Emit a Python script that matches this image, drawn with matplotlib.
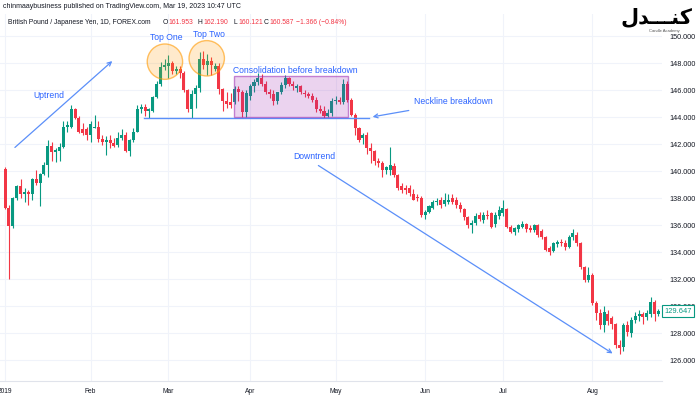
import numpy as np
import pandas as pd
import matplotlib
matplotlib.use('Agg')
import matplotlib.pyplot as plt
from matplotlib.patches import Ellipse, Rectangle
from matplotlib.ticker import FormatStrFormatter
from matplotlib.transforms import blended_transform_factory

# GBPJPY daily candles, Jan-Aug 2019, one line per month
opens = [
    140.2, 137.3, 135.95, 138.0, 138.9, 138.3, 138.45, 138.3, 139.4, 139.1, 139.8, 140.5, 141.9, 141.4, 141.5, 141.8, 143.3, 143.3, 144.6, 143.95, 143.1, 143.1,
    142.7, 143.2, 143.3, 142.4, 142.2, 142.3, 142.1, 141.95, 142.5, 142.7, 141.5, 142.3, 142.9, 144.6, 144.75, 144.5, 144.5, 145.5, 146.5, 147.7,
    147.8, 148.0, 147.4, 147.6, 147.3, 146.0, 144.6, 145.7, 146.2, 148.3, 147.9, 148.2, 147.6, 147.8, 146.1, 145.2, 145.1, 145.1, 146.1, 145.9, 144.4,
    145.6, 146.3, 146.6, 146.9, 146.5, 145.9, 145.7, 145.2, 145.9, 146.4, 146.9, 146.5, 146.2, 146.3, 145.8, 145.7, 145.6, 145.3, 144.6, 144.5, 144.1, 144.3,
    145.2, 145.3, 145.1, 146.5, 145.3, 144.2, 143.2, 142.5, 142.7, 141.7, 141.5, 140.8, 140.6, 140.1, 140.1, 140.4, 139.7, 138.9, 138.8, 138.8, 138.3, 138.1, 138.0,
    136.8, 137.0, 137.3, 137.7, 137.9, 137.6, 137.7, 138.0, 137.9, 137.5, 137.2, 136.6, 136.0, 136.2, 136.8, 136.4, 136.8, 136.9, 136.1, 136.7,
    136.9, 137.2, 135.9, 135.5, 135.7, 135.9, 136.1, 135.8, 135.65, 136.0, 135.6, 135.1, 134.3, 134.1, 134.6, 134.8, 134.7, 134.4, 135.1, 135.3, 134.7, 132.9, 131.95,
    132.3, 130.25, 129.5, 128.6, 129.4, 129.1, 128.7, 127.1, 127.0, 128.6, 128.0, 129.0, 129.3, 129.4, 129.2, 129.4, 130.35, 129.4,
]
highs = [
    140.3, 137.5, 138.1, 139.0, 139.4, 138.8, 138.6, 139.5, 140.1, 139.9, 140.7, 142.3, 142.2, 141.7, 142.1, 143.7, 143.7, 144.9, 144.7, 144.1, 143.6, 143.3,
    143.7, 144.2, 143.7, 142.7, 142.6, 142.7, 142.5, 142.9, 143.1, 142.9, 142.4, 143.2, 144.9, 145.0, 145.0, 144.7, 145.6, 146.7, 148.1, 148.3,
    148.6, 148.2, 147.8, 147.8, 147.4, 146.1, 146.0, 146.4, 148.8, 148.9, 148.7, 148.5, 148.0, 148.0, 146.2, 145.9, 145.8, 146.3, 146.3, 146.0, 146.0,
    146.5, 146.8, 147.3, 147.2, 146.7, 146.1, 146.0, 145.9, 146.6, 147.1, 147.0, 146.7, 146.5, 146.4, 146.0, 145.9, 145.8, 145.5, 144.9, 144.8, 144.6, 145.4,
    145.6, 145.5, 146.8, 146.7, 145.4, 144.3, 143.3, 142.8, 142.9, 142.1, 141.6, 141.0, 140.8, 140.4, 141.8, 140.6, 139.8, 139.1, 139.0, 139.0, 138.7, 138.3, 138.2,
    137.1, 137.5, 137.9, 138.0, 138.1, 138.4, 138.3, 138.3, 138.1, 137.7, 137.3, 136.7, 136.4, 136.9, 137.0, 137.0, 137.1, 137.0, 137.0, 137.4,
    137.9, 137.3, 136.0, 135.9, 136.1, 136.3, 136.2, 136.0, 136.1, 136.1, 135.7, 135.2, 134.5, 134.8, 134.9, 135.0, 134.9, 135.3, 135.7, 135.5, 134.8, 133.0, 132.9,
    132.5, 130.4, 129.8, 130.0, 129.7, 129.3, 128.8, 127.5, 128.8, 128.9, 129.2, 129.6, 129.7, 129.6, 129.7, 130.7, 130.5, 129.8,
]
lows = [
    137.2, 132.0, 135.8, 137.9, 138.0, 137.7, 137.5, 137.9, 139.0, 137.4, 139.7, 139.6, 140.8, 140.7, 140.8, 141.7, 142.9, 143.2, 143.9, 142.8, 142.7, 142.3,
    142.2, 143.2, 142.2, 141.95, 141.2, 141.7, 141.8, 141.8, 142.3, 141.4, 141.1, 142.2, 142.9, 144.3, 144.1, 143.95, 144.4, 145.4, 146.3, 147.5,
    146.9, 147.2, 147.2, 146.9, 145.9, 144.4, 143.95, 144.7, 145.9, 147.6, 147.1, 147.1, 147.4, 145.7, 144.5, 144.7, 144.7, 145.0, 145.2, 144.0, 144.0,
    145.3, 145.9, 146.4, 146.3, 145.7, 145.4, 144.9, 145.0, 145.7, 146.2, 146.3, 146.0, 145.9, 145.7, 145.5, 145.4, 145.1, 144.4, 144.3, 143.95, 144.0, 144.1,
    145.0, 145.0, 145.0, 145.1, 144.1, 142.7, 142.2, 142.0, 141.3, 140.6, 140.5, 140.3, 139.6, 139.8, 139.7, 139.6, 138.6, 138.4, 138.3, 138.2, 137.9, 137.8, 136.6,
    136.5, 136.9, 137.2, 137.5, 137.3, 137.4, 137.6, 137.6, 137.3, 137.0, 136.4, 135.8, 135.4, 136.0, 136.3, 136.2, 136.5, 135.8, 135.9, 136.5,
    136.7, 135.8, 135.4, 135.3, 135.5, 135.8, 135.5, 135.5, 135.5, 135.1, 135.0, 134.1, 133.8, 134.0, 134.4, 134.5, 134.2, 134.3, 134.9, 134.5, 132.8, 131.8, 131.8,
    130.1, 129.0, 128.3, 128.1, 128.6, 128.3, 126.9, 126.5, 126.7, 127.8, 127.7, 128.8, 128.9, 128.7, 129.0, 129.2, 128.9, 129.3,
]
closes = [
    137.3, 135.95, 138.0, 138.9, 138.3, 138.45, 138.3, 139.4, 139.1, 139.8, 140.5, 141.9, 141.4, 141.6, 141.8, 143.3, 143.4, 144.6, 143.95, 142.9, 142.8, 142.7,
    143.5, 143.3, 142.4, 142.2, 142.3, 142.1, 141.9, 142.5, 142.7, 141.5, 142.3, 142.9, 144.6, 144.75, 144.5, 144.6, 145.5, 146.5, 147.7, 147.9,
    148.0, 147.4, 147.6, 147.3, 146.0, 144.6, 145.7, 146.2, 148.3, 147.9, 148.2, 147.9, 147.8, 146.1, 145.2, 145.0, 144.9, 146.1, 145.9, 144.4, 145.8,
    146.3, 146.6, 146.9, 146.5, 145.9, 145.7, 145.2, 145.9, 146.4, 146.9, 146.5, 146.3, 146.3, 145.9, 145.7, 145.6, 145.3, 144.6, 144.5, 144.1, 144.3, 145.2,
    145.3, 145.1, 146.5, 145.3, 144.2, 143.2, 142.3, 142.7, 141.7, 141.5, 140.8, 140.6, 140.1, 140.3, 140.5, 139.7, 138.8, 138.6, 138.6, 138.4, 137.9, 138.0, 136.8,
    137.0, 137.4, 137.7, 137.8, 137.5, 137.9, 137.9, 137.7, 137.5, 137.2, 136.6, 136.0, 136.2, 136.7, 136.5, 136.8, 136.7, 135.9, 136.8, 137.1,
    137.3, 135.9, 135.5, 135.8, 136.0, 136.1, 135.7, 135.65, 136.0, 135.3, 135.1, 134.2, 134.0, 134.7, 134.8, 134.7, 134.4, 135.1, 135.4, 134.7, 132.9, 131.95, 132.3,
    130.25, 129.5, 128.6, 129.6, 128.9, 128.7, 127.1, 126.95, 128.6, 128.1, 129.0, 129.3, 129.4, 129.2, 129.5, 130.35, 129.4, 129.647,
]

price_ticks = list(range(126, 152, 2))
neckline = 143.93
box_top, box_bottom = 147.08, 144.0

UP = '#089981'
DOWN = '#f23645'
TXT = '#131722'
BLUE_TXT = '#2962ff'
BLUE_LN = '#5b8ff9'
GRID = '#f0f3fa'

plt.rcParams['font.family'] = ['Liberation Sans', 'DejaVu Sans']

df = pd.DataFrame({'open': opens, 'high': highs, 'low': lows, 'close': closes},
                  index=pd.bdate_range('2019-01-02', periods=len(closes)))
x = np.arange(len(df))
colors = np.where(df['close'] >= df['open'], UP, DOWN)

fig = plt.figure(figsize=(7, 4), dpi=100)
ax = fig.add_axes([0, 19 / 400, 662 / 700, 367 / 400])

# candles
ax.vlines(x, df['low'], df['high'], colors=colors, lw=0.8, zorder=2)
body = (df['close'] - df['open']).abs().clip(lower=0.06)
ax.bar(x, body, bottom=df[['open', 'close']].min(axis=1), width=0.78,
       color=colors, lw=0, zorder=3)

ax.set_xlim(-1.3, 168.9)
ax.set_ylim(124.47, 151.65)

# month ticks
months = df.index.month
month_idx = [0] + [i for i in range(1, len(df)) if months[i] != months[i - 1]]
month_lbl = ['2019' if df.index[i].month == 1 else df.index[i].strftime('%b') for i in month_idx]
ax.set_xticks(month_idx)
ax.set_xticklabels(month_lbl)
ax.set_yticks(price_ticks)
ax.yaxis.set_major_formatter(FormatStrFormatter('%.3f'))
ax.yaxis.tick_right()
ax.tick_params(axis='x', length=0, pad=5, labelsize=4.8, colors=TXT)
ax.tick_params(axis='y', length=0, pad=5, labelsize=5.2, colors=TXT)
ax.grid(True, color=GRID, lw=0.8, zorder=0)
for s in ['top', 'left', 'right']:
    ax.spines[s].set_visible(False)
ax.spines['bottom'].set_color('#e0e3eb')
ax.spines['bottom'].set_linewidth(0.8)

# drawings
arrow = dict(arrowstyle='->', color=BLUE_LN, lw=0.9, mutation_scale=7)
ax.annotate('', xy=(28.1, 148.3), xytext=(2.0, 141.63), arrowprops=arrow, zorder=6)
ax.text(11.3, 145.58, 'Uptrend', color=BLUE_TXT, fontsize=6.2, ha='center', va='center')

for cx, cy in [(41.1, 148.12), (51.85, 148.37)]:
    ax.add_patch(Ellipse((cx, cy), 9.1, 2.62, fc=(1, 0.6, 0, 0.2),
                         ec=(1, 0.6, 0, 0.6), lw=1, zorder=5))
ax.text(41.4, 149.93, 'Top One', color=BLUE_TXT, fontsize=6.2, ha='center', va='center')
ax.text(52.3, 150.1, 'Top Two', color=BLUE_TXT, fontsize=6.2, ha='center', va='center')

ax.plot([35.8, 93.6], [neckline, neckline], color=BLUE_LN, lw=1, zorder=5)
ax.add_patch(Rectangle((58.9, box_bottom), 88.2 - 58.9, box_top - box_bottom,
                       fc=(0.612, 0.153, 0.69, 0.2), ec=(0.612, 0.153, 0.69, 0.55),
                       lw=1, zorder=5))
ax.text(74.55, 147.5, 'Consolidation before breakdown', color=BLUE_TXT, fontsize=6.2,
        ha='center', va='center')

ax.annotate('', xy=(93.8, 144.0), xytext=(104.5, 144.54), arrowprops=arrow, zorder=6)
ax.text(115.2, 145.2, 'Neckline breakdown', color=BLUE_TXT, fontsize=6.2, ha='center', va='center')

ax.annotate('', xy=(156.8, 126.4), xytext=(79.95, 140.54), arrowprops=arrow, zorder=6)
ax.text(79.6, 141.06, 'Downtrend', color=BLUE_TXT, fontsize=6.2, ha='center', va='center')

# last price tag
last = closes[-1]
ax.text(1.003, last, f'{last:.3f}', transform=blended_transform_factory(ax.transAxes, ax.transData),
        color=UP, fontsize=5.4, ha='left', va='center', clip_on=False, zorder=10,
        bbox=dict(boxstyle='square,pad=0.3', fc='white', ec=UP, lw=0.8))

# header
fig.text(3 / 700, 1 - 7 / 400, 'chinmaaybusiness published on TradingView.com, Mar 19, 2023 10:47 UTC',
         fontsize=5.0, color=TXT, va='center')
y2 = 1 - 22 / 400
fig.text(8 / 700, y2, 'British Pound / Japanese Yen, 1D, FOREX.com', fontsize=4.9, color=TXT, va='center')
for xp, lab, val in [(163, 'O', '161.953'), (198, 'H', '162.190'), (233, 'L', '160.121'), (264, 'C', '160.587')]:
    fig.text(xp / 700, y2, lab, fontsize=4.9, color=TXT, va='center')
    fig.text((xp + 5) / 700, y2, val, fontsize=4.9, color=DOWN, va='center')
fig.text(296 / 700, y2, '\u22121.366 (\u22120.84%)', fontsize=4.9, color=DOWN, va='center')

# watermark logo
fig.text(656 / 700, 1 - 17 / 400, '\uFEDD\uFEAA\u0640\u0640\u0640\uFEE8\uFB90',
         family='DejaVu Sans', fontweight='bold', fontsize=15, color='black',
         ha='center', va='center')
fig.text(664 / 700, 1 - 31 / 400, 'Candle Academy', fontsize=3, color='#555555',
         ha='center', va='center')

fig.savefig('out.png', dpi=100)
